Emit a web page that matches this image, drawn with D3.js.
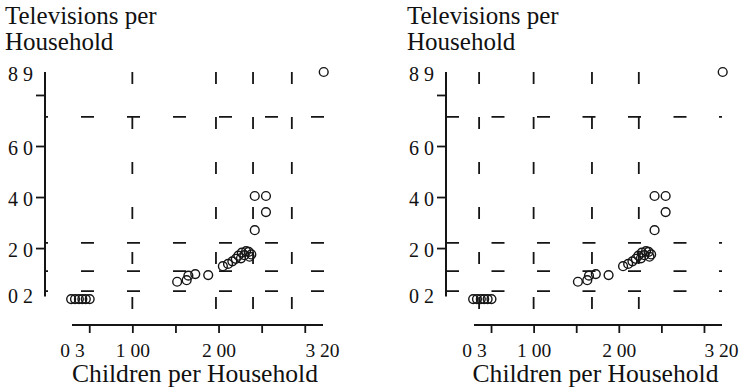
<!DOCTYPE html>
<html>
<head>
<meta charset="utf-8">
<script src="https://cdn.jsdelivr.net/npm/d3@7"></script>
<style>
  html, body { margin: 0; padding: 0; background: #fff; }
  svg { display: block; }
  text { font-family: "Liberation Serif", "Times New Roman", serif; fill: #111; }
</style>
</head>
<body>
<svg id="chart" width="745" height="389"></svg>
<script>
// ---- data ----
const childrenPerHousehold = [29, 33.5, 38, 42, 46, 50.5,
  152, 163, 165, 173, 188,
  205, 211, 216, 220, 223, 226, 227, 230, 232, 235, 236, 238,
  242, 242, 255, 255, 322];
const televisionsPerHousehold = [0, 0, 0, 0, 0, 0,
  6.8, 7.4, 9.2, 9.8, 9.4,
  12.9, 13.8, 14.8, 15.8, 17, 16, 18.2, 17.2, 18.8, 18.5, 16.6, 17.5,
  27, 40.4, 40.4, 34.1, 89];

const xTickValues = [50, 100, 150, 200, 250, 300];
const xLabelValues = [30, 100, 200, 320];
const xLabelTexts = ["0 3", "1 00", "2 00", "3 20"];
const yTickValues = [20, 40, 60, 80];
const yLabelValues = [2, 20, 40, 60, 89];
const yLabelTexts = ["0 2", "2 0", "4 0", "6 0", "8 9"];
const xDomain = [30, 320];
const yDomain = [2, 89];

const hGridValues = [71.4, 22, 11, 3.1];
const vGridLeft = [100, 197, 240, 285];
const vGridRight = [36, 100, 168.5, 223.5];

const yTitleLines = ["Televisions per", "Household"];
const xTitle = "Children per Household";

// ---- drawing ----
const svg = d3.select("#chart");
const ink = "#151515";

function panel(cfg) {
  const g = svg.append("g");
  const x = d3.scaleLinear().domain(xDomain).range(cfg.xRange);
  const y = d3.scaleLinear().domain(yDomain).range([294, 72]);
  const axisY = cfg.axisX;  // x position of the y axis
  const xAxisY = 325;

  // grid: horizontal dashed lines
  g.append("g").selectAll("line").data(hGridValues).join("line")
    .attr("x1", axisY).attr("x2", cfg.hEnd)
    .attr("y1", d => y(d)).attr("y2", d => y(d))
    .attr("stroke", ink).attr("stroke-width", 1.8)
    .attr("stroke-dasharray", cfg.hDash)
    .attr("stroke-dashoffset", cfg.hOffset);

  // grid: vertical dashed lines
  g.append("g").selectAll("line").data(cfg.vGrid).join("line")
    .attr("x1", d => x(d)).attr("x2", d => x(d))
    .attr("y1", y(89)).attr("y2", y(-6.5))
    .attr("stroke", ink).attr("stroke-width", 1.8)
    .attr("stroke-dasharray", "12 33");

  // y axis: tick marks
  const yTicksG = g.append("g").attr("transform", `translate(${axisY},0)`)
    .call(d3.axisLeft(y).tickValues(yTickValues).tickSize(9).tickFormat(""));
  yTicksG.select(".domain").remove();
  yTicksG.selectAll("line").attr("stroke", ink).attr("stroke-width", 1.8);

  // y axis: labels
  const yLab = g.append("g").attr("transform", `translate(${axisY},0)`)
    .call(d3.axisLeft(y).tickValues(yLabelValues).tickSize(0).tickPadding(12)
      .tickFormat((d, i) => yLabelTexts[i]));
  yLab.select(".domain").remove();
  yLab.selectAll("text")
    .attr("font-family", "Liberation Serif, serif").attr("font-size", 20)
    .attr("fill", ink).attr("dy", "0.4em");

  // y axis line (range frame)
  g.append("line")
    .attr("x1", axisY).attr("x2", axisY)
    .attr("y1", y(89)).attr("y2", y(1))
    .attr("stroke", ink).attr("stroke-width", 2);

  // x axis ticks
  const xTicksG = g.append("g").attr("transform", `translate(0,${xAxisY})`)
    .call(d3.axisBottom(x).tickValues(xTickValues).tickSize(8).tickFormat(""));
  xTicksG.select(".domain").remove();
  xTicksG.selectAll("line").attr("stroke", ink).attr("stroke-width", 1.8);

  // x axis labels
  const xLab = g.append("g").attr("transform", `translate(0,${xAxisY})`)
    .call(d3.axisBottom(x).tickValues(xLabelValues).tickSize(0).tickPadding(18)
      .tickFormat((d, i) => xLabelTexts[i]));
  xLab.select(".domain").remove();
  xLab.selectAll("text")
    .attr("font-family", "Liberation Serif, serif").attr("font-size", 19.5)
    .attr("fill", ink);

  // x axis line
  g.append("line")
    .attr("x1", x(30)).attr("x2", x(320) + 1)
    .attr("y1", xAxisY).attr("y2", xAxisY)
    .attr("stroke", ink).attr("stroke-width", 2);

  // points
  g.append("g").selectAll("circle")
    .data(childrenPerHousehold.map((c, i) => [c, televisionsPerHousehold[i]]))
    .join("circle")
    .attr("cx", d => x(d[0])).attr("cy", d => y(d[1]))
    .attr("r", 4.4)
    .attr("fill", "none").attr("stroke", ink).attr("stroke-width", 1.4);

  // y title
  g.append("text").attr("x", cfg.titleX).attr("y", 24)
    .attr("font-size", 25).text(yTitleLines[0]);
  g.append("text").attr("x", cfg.titleX).attr("y", 50)
    .attr("font-size", 25).text(yTitleLines[1]);

  // x title
  g.append("text").attr("x", (cfg.xRange[0] + cfg.xRange[1]) / 2 - 2).attr("y", 382)
    .attr("text-anchor", "middle").attr("font-size", 25.6).text(xTitle);
}

panel({ xRange: [72, 322], axisX: 45, hEnd: 324, hDash: "13 33", hOffset: 10,
        vGrid: vGridLeft, titleX: 5 });
panel({ xRange: [474, 721], axisX: 446, hEnd: 722, hDash: "13 32.5", hOffset: 0,
        vGrid: vGridRight, titleX: 407 });
</script>
</body>
</html>
